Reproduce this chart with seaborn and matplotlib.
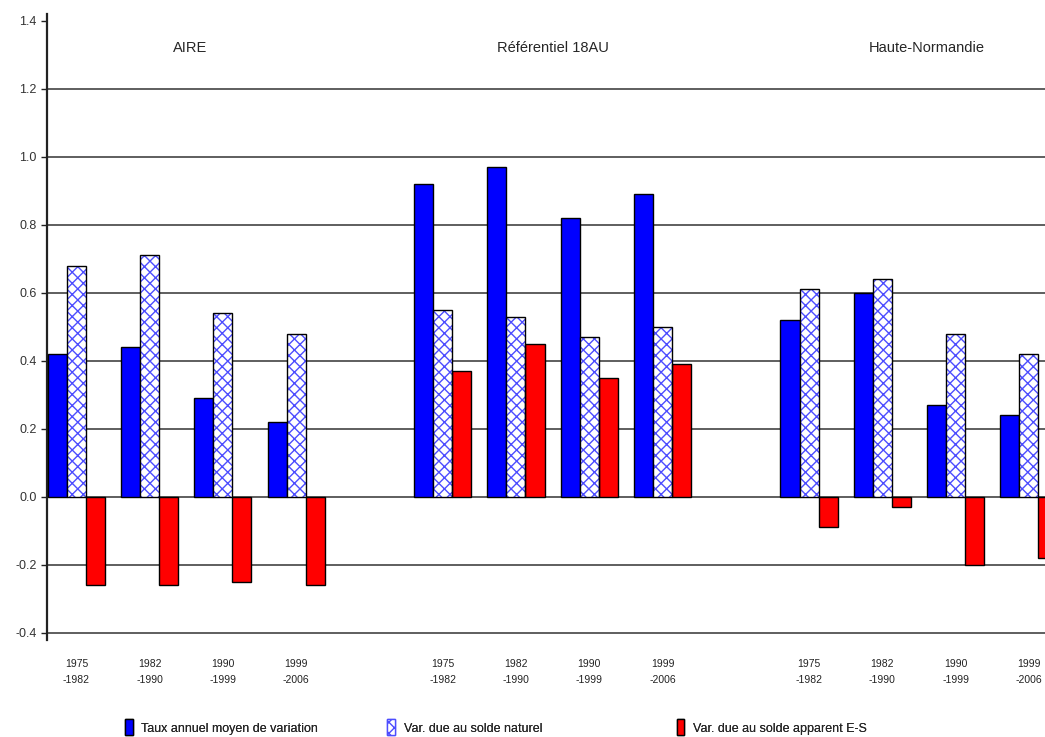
import numpy as np
import pandas as pd
import matplotlib
matplotlib.use('Agg')
import matplotlib.pyplot as plt
from matplotlib.patches import Rectangle, Patch
import seaborn as sns

regions = ['AIRE', 'Référentiel 18AU', 'Haute-Normandie']
periods = ['1975\n-1982', '1982\n-1990', '1990\n-1999', '1999\n-2006']
series = ['Taux annuel moyen de variation', 'Var. due au solde naturel',
          'Var. due au solde apparent E-S']

taux = {'AIRE': [0.42, 0.44, 0.29, 0.22],
        'Référentiel 18AU': [0.92, 0.97, 0.82, 0.89],
        'Haute-Normandie': [0.52, 0.60, 0.27, 0.24]}
naturel = {'AIRE': [0.68, 0.71, 0.54, 0.48],
           'Référentiel 18AU': [0.55, 0.53, 0.47, 0.50],
           'Haute-Normandie': [0.61, 0.64, 0.48, 0.42]}
apparent = {'AIRE': [-0.26, -0.26, -0.25, -0.26],
            'Référentiel 18AU': [0.37, 0.45, 0.35, 0.39],
            'Haute-Normandie': [-0.09, -0.03, -0.20, -0.18]}

sns.set_style('white')
plt.rcParams['font.family'] = ['Liberation Sans', 'DejaVu Sans']

rows = []
for r in regions:
    for i, p in enumerate(periods):
        key = r + '|' + p
        rows.append([key, series[0], taux[r][i]])
        rows.append([key, series[1], naturel[r][i]])
        rows.append([key, series[2], apparent[r][i]])
df = pd.DataFrame(rows, columns=['slot', 'serie', 'valeur'])

# empty slots between the three regions
order = []
ticklabels = []
for k, r in enumerate(regions):
    if k > 0:
        order.append('gap%d' % k)
        ticklabels.append('')
    for p in periods:
        order.append(r + '|' + p)
        ticklabels.append(p)

palette = {series[0]: '#0000ff', series[1]: 'white', series[2]: '#ff0000'}

fig = plt.figure(figsize=(10.45, 7.37), dpi=100)
ax = fig.add_axes([0.045, 0.132, 0.955, 0.849])

sns.barplot(data=df, x='slot', y='valeur', hue='serie', order=order,
            hue_order=series, palette=palette, saturation=1, width=0.78,
            errorbar=None, edgecolor='black', linewidth=1, legend=False, ax=ax,
            zorder=3)

for p in list(ax.patches):
    fc = p.get_facecolor()
    if fc[0] > 0.9 and fc[1] > 0.9 and fc[2] > 0.9:
        p.set_hatch('xxx')
        p.set_edgecolor('#4d4dff')
        p.set_linewidth(0)
        ax.add_patch(Rectangle(p.get_xy(), p.get_width(), p.get_height(),
                               fill=False, ec='black', lw=1, zorder=4))

ax.set_ylim(-0.42, 1.42)
ax.set_xlim(-0.4, 13.22)
ax.set_yticks(np.arange(-0.4, 1.41, 0.2))
ax.set_yticklabels(['%.1f' % v for v in np.arange(-0.4, 1.41, 0.2)])
for v in np.arange(-0.4, 1.41, 0.2)[:-1]:
    ax.axhline(v, color='#333333', lw=1.1, zorder=1)

ax.set_xticks(range(len(order)))
ax.set_xticklabels(ticklabels, fontsize=7.5, color='#222222', linespacing=1.7)
ax.tick_params(axis='x', length=0, pad=14)
ax.tick_params(axis='y', length=4, width=1, direction='out', labelsize=9,
               color='#222222', labelcolor='#333333', left=True)
ax.set_xlabel('')
ax.set_ylabel('')
for s in ['top', 'right', 'bottom']:
    ax.spines[s].set_visible(False)
ax.spines['left'].set_color('#222222')
ax.spines['left'].set_linewidth(1.6)

title_x = [1.55, 6.5, 11.6]
for r, tx in zip(regions, title_x):
    ax.text(tx, 1.32, r, ha='center', va='center', fontsize=10.5)

handles = [Patch(facecolor='#0000ff', edgecolor='black'),
           Patch(facecolor='white', edgecolor='#4d4dff', hatch='xxx'),
           Patch(facecolor='#ff0000', edgecolor='black')]
legend_x = [0.115, 0.366, 0.643]
for h, s, lx in zip(handles, series, legend_x):
    leg = fig.legend([h], [s], loc='center left', bbox_to_anchor=(lx, 0.013),
                     frameon=False, fontsize=9, handlelength=0.6,
                     handleheight=1.6, handletextpad=0.7, borderaxespad=0)
    fig.add_artist(leg)

fig.savefig('out.png', dpi=100)
